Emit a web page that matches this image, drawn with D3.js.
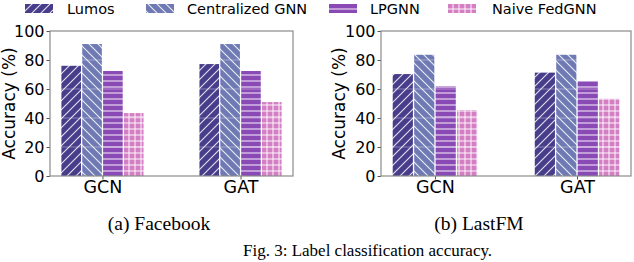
<!DOCTYPE html>
<html>
<head>
<meta charset="utf-8">
<script src="https://cdn.jsdelivr.net/npm/d3@7"></script>
<style>
  html, body { margin: 0; padding: 0; background: #fff; overflow: hidden; }
  svg { display: block; }
</style>
</head>
<body>
<svg id="chart" width="634" height="262"></svg>
<script>
// ---- data ----
const categories = ["GCN", "GAT"];
const seriesNames = ["Lumos", "Centralized GNN", "LPGNN", "Naive FedGNN"];
const yTicks = [0, 20, 40, 60, 80, 100];

const facebookLumos = [76.0, 77.2];
const facebookCentral = [91.0, 91.0];
const facebookLPGNN = [72.4, 72.4];
const facebookNaive = [43.4, 51.0];

const lastfmLumos = [70.3, 71.3];
const lastfmCentral = [83.6, 83.6];
const lastfmLPGNN = [62.0, 65.5];
const lastfmNaive = [45.5, 53.3];

const panelTitles = ["(a) Facebook", "(b) LastFM"];
const figCaption = "Fig. 3: Label classification accuracy.";

// ---- styles ----
const colors = ["#483d8b", "#6f79b4", "#8a4ab6", "#d47ec4"];
const hatches = ["fwd", "back", "horiz", "cross"];

const svg = d3.select("#chart");
const defs = svg.append("defs");

function makePattern(id, color, kind) {
  const size = kind === "fwd" || kind === "back" ? 9 : 6;
  const p = defs.append("pattern")
    .attr("id", id)
    .attr("patternUnits", "userSpaceOnUse")
    .attr("width", size).attr("height", size);
  p.append("rect").attr("width", size).attr("height", size).attr("fill", color);
  const st = { stroke: "#ffffff", "stroke-width": 1.1, "stroke-opacity": 0.85 };
  function line(x1, y1, x2, y2) {
    const l = p.append("line").attr("x1", x1).attr("y1", y1).attr("x2", x2).attr("y2", y2);
    Object.entries(st).forEach(([k, v]) => l.attr(k, v));
  }
  if (kind === "fwd") {
    line(0, size, size, 0); line(-1, 1, 1, -1); line(size - 1, size + 1, size + 1, size - 1);
  } else if (kind === "back") {
    line(0, 0, size, size); line(-1, size - 1, 1, size + 1); line(size - 1, -1, size + 1, 1);
  } else if (kind === "horiz") {
    line(0, size / 2, size, size / 2);
  } else if (kind === "cross") {
    line(0, size / 2, size, size / 2);
    line(size / 2, 0, size / 2, size);
  }
}
seriesNames.forEach((s, i) => makePattern("pat" + i, colors[i], hatches[i]));

// ---- legend ----
const legendItems = [
  { patchX: 25, textX: 67 },
  { patchX: 146, textX: 187 },
  { patchX: 329, textX: 370 },
  { patchX: 448, textX: 492 }
];
seriesNames.forEach((s, i) => {
  const g = svg.append("g");
  g.append("rect")
    .attr("x", legendItems[i].patchX).attr("y", 4)
    .attr("width", 28).attr("height", 9)
    .attr("fill", "url(#pat" + i + ")");
  g.append("text")
    .attr("x", legendItems[i].textX).attr("y", 14)
    .attr("font-family", "DejaVu Sans")
    .attr("font-size", 14.5)
    .attr("fill", "#000")
    .text(s);
});

// ---- panels ----
const panels = [
  { x0: 50, x1: 293, labelX: 9, titleX: 159,
    values: [facebookLumos, facebookCentral, facebookLPGNN, facebookNaive] },
  { x0: 381, x1: 631, labelX: 339, titleX: 479,
    values: [lastfmLumos, lastfmCentral, lastfmLPGNN, lastfmNaive] }
];
const yTop = 31, yBottom = 176;

panels.forEach((pnl, pi) => {
  const g = svg.append("g");
  const y = d3.scaleLinear().domain([0, 100]).range([yBottom, yTop]);
  const x = d3.scalePoint().domain(categories).range([pnl.x0, pnl.x1]).padding(0.38);
  const step = x.step();
  const groupW = step * 0.595;
  const inner = d3.scaleBand().domain(seriesNames).range([-groupW / 2, groupW / 2]).paddingInner(0.06);

  seriesNames.forEach((s, si) => {
    g.selectAll(null)
      .data(pnl.values[si].map((v, ci) => ({ v, c: categories[ci] })))
      .enter().append("rect")
      .attr("x", d => x(d.c) + inner(s))
      .attr("y", d => y(d.v))
      .attr("width", inner.bandwidth())
      .attr("height", d => yBottom - y(d.v))
      .attr("fill", "url(#pat" + si + ")");
  });

  g.append("g").selectAll("line")
    .data(yTicks.slice(1, -1))
    .enter().append("line")
    .attr("x1", pnl.x0).attr("x2", pnl.x1)
    .attr("y1", d => y(d)).attr("y2", d => y(d))
    .attr("stroke", "#ffffff").attr("stroke-opacity", 0.35).attr("stroke-width", 1);

  const yAxis = d3.axisLeft(y).tickValues(yTicks).tickSize(3.5).tickPadding(2).tickFormat(d3.format("d"));
  const ya = g.append("g").attr("transform", `translate(${pnl.x0},0)`).call(yAxis);
  ya.select(".domain").remove();
  ya.selectAll(".tick line").attr("stroke", "#555");
  ya.selectAll(".tick text").attr("font-family", "DejaVu Sans").attr("font-size", 16).attr("fill", "#000");

  const xAxis = d3.axisBottom(x).tickSize(3.5).tickPadding(1.5);
  const xa = g.append("g").attr("transform", `translate(0,${yBottom})`).call(xAxis);
  xa.select(".domain").remove();
  xa.selectAll(".tick line").attr("stroke", "#555");
  xa.selectAll(".tick text").attr("font-family", "DejaVu Sans").attr("font-size", 17.5).attr("fill", "#000");

  g.append("rect")
    .attr("x", pnl.x0).attr("y", yTop)
    .attr("width", pnl.x1 - pnl.x0).attr("height", yBottom - yTop)
    .attr("fill", "none").attr("stroke", "#8a8a8a").attr("stroke-width", 1.2);

  g.append("text")
    .attr("transform", `translate(${pnl.labelX + 6},${(yTop + yBottom) / 2}) rotate(-90)`)
    .attr("text-anchor", "middle")
    .attr("font-family", "DejaVu Sans")
    .attr("font-size", 17)
    .attr("fill", "#000")
    .text("Accuracy (%)");

  svg.append("text")
    .attr("x", pnl.titleX).attr("y", 230)
    .attr("text-anchor", "middle")
    .attr("font-family", "Liberation Serif")
    .attr("font-size", 19.5)
    .attr("fill", "#000")
    .text(panelTitles[pi]);
});

svg.append("text")
  .attr("x", 243).attr("y", 256)
  .attr("font-family", "Liberation Serif")
  .attr("font-size", 17)
  .attr("fill", "#000")
  .text(figCaption);
</script>
</body>
</html>
